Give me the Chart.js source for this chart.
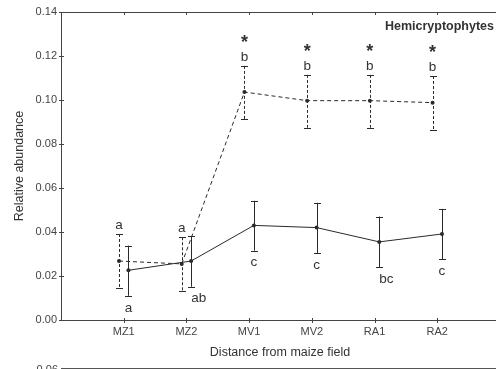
<!DOCTYPE html>
<html>
<head>
<meta charset="utf-8">
<script src="https://cdn.jsdelivr.net/npm/chart.js@4"></script>
<style>
  html, body { margin: 0; padding: 0; background: #fff; overflow: hidden; }
  #chart { display: block; }
</style>
</head>
<body>
<canvas id="chart" width="510" height="369" style="width:510px;height:369px"></canvas>
<script>
// categories along the x axis
const categories = ['MZ1', 'MZ2', 'MV1', 'MV2', 'RA1', 'RA2'];

// dashed series (mean, error bar ends, letters)
const dashedMean  = [0.0268, 0.0255, 0.1036, 0.0997, 0.0997, 0.0988];
const dashedUpper = [0.0391, 0.0376, 0.1155, 0.1114, 0.1114, 0.1109];
const dashedLower = [0.0145, 0.0132, 0.0914, 0.0874, 0.0874, 0.0865];
const dashedLetters = ['a', 'a', 'b', 'b', 'b', 'b'];
const dashedStars = [false, false, true, true, true, true];

// solid series
const solidMean  = [0.0226, 0.0268, 0.0430, 0.0420, 0.0355, 0.0391];
const solidUpper = [0.0338, 0.0382, 0.0542, 0.0533, 0.0470, 0.0505];
const solidLower = [0.0110, 0.0151, 0.0315, 0.0303, 0.0240, 0.0276];
const solidLetters = ['a', 'ab', 'c', 'c', 'bc', 'c'];

const yTicks = [0, 0.02, 0.04, 0.06, 0.08, 0.10, 0.12, 0.14];

const DODGE = 0.075;
const INK = '#2a2a2a';
const FONT = '"Liberation Sans", Arial, sans-serif';

function pts(vals, shift) {
  return vals.map((v, i) => ({ x: i + 1 + shift, y: v }));
}

const decor = {
  id: 'decor',
  afterDatasetsDraw(chart) {
    const ctx = chart.ctx;
    const a = chart.chartArea;
    const xs = chart.scales.x, ys = chart.scales.y;
    ctx.save();

    // frame: left, bottom, top
    ctx.strokeStyle = '#444';
    ctx.lineWidth = 1;
    ctx.setLineDash([]);
    ctx.beginPath();
    ctx.moveTo(a.left + 0.5, a.top + 0.5);
    ctx.lineTo(a.left + 0.5, a.bottom + 0.5);
    ctx.lineTo(a.right, a.bottom + 0.5);
    ctx.moveTo(a.left, a.top + 0.5);
    ctx.lineTo(a.right, a.top + 0.5);
    ctx.stroke();

    // tick marks
    ctx.beginPath();
    yTicks.forEach(v => {
      const y = Math.round(ys.getPixelForValue(v)) + 0.5;
      ctx.moveTo(a.left - 2, y); ctx.lineTo(a.left + 3, y);
    });
    categories.forEach((c, i) => {
      const x = Math.round(xs.getPixelForValue(i + 1)) + 0.5;
      ctx.moveTo(x, a.top); ctx.lineTo(x, a.top + 3);
      ctx.moveTo(x, a.bottom - 2); ctx.lineTo(x, a.bottom + 3);
    });
    ctx.stroke();

    // error bars
    function bars(mean, lo, hi, shift, dash) {
      ctx.strokeStyle = INK;
      ctx.lineWidth = 1;
      mean.forEach((m, i) => {
        const x = Math.round(xs.getPixelForValue(i + 1 + shift)) + 0.5;
        const y1 = ys.getPixelForValue(hi[i]);
        const y2 = ys.getPixelForValue(lo[i]);
        ctx.setLineDash(dash);
        ctx.beginPath();
        ctx.moveTo(x, y1); ctx.lineTo(x, y2);
        ctx.stroke();
        ctx.setLineDash([]);
        ctx.beginPath();
        ctx.moveTo(x - 3.5, Math.round(y1) + 0.5); ctx.lineTo(x + 3.5, Math.round(y1) + 0.5);
        ctx.moveTo(x - 3.5, Math.round(y2) + 0.5); ctx.lineTo(x + 3.5, Math.round(y2) + 0.5);
        ctx.stroke();
      });
    }
    bars(dashedMean, dashedLower, dashedUpper, -DODGE, [3, 2]);
    bars(solidMean, solidLower, solidUpper, DODGE, []);

    // significance letters
    ctx.fillStyle = '#333';
    ctx.textBaseline = 'middle';
    dashedLetters.forEach((t, i) => {
      const x = xs.getPixelForValue(i + 1 - DODGE);
      const y = ys.getPixelForValue(dashedUpper[i]) - 9;
      ctx.textAlign = 'center';
      ctx.font = '13.5px ' + FONT;
      ctx.fillText(t, x, y);
      if (dashedStars[i]) {
        ctx.font = 'bold 18px ' + FONT;
        ctx.fillText('*', x, y - 14);
      }
    });
    ctx.font = '13.5px ' + FONT;
    solidLetters.forEach((t, i) => {
      const x = xs.getPixelForValue(i + 1 + DODGE);
      const y = ys.getPixelForValue(solidLower[i]) + 12;
      ctx.textAlign = t.length > 1 ? 'left' : 'center';
      ctx.fillText(t, x, y);
    });

    // title and axis titles
    ctx.font = 'bold 12.5px ' + FONT;
    ctx.textAlign = 'right';
    ctx.fillText('Hemicryptophytes', 494, a.top + 15);

    ctx.font = '12.5px ' + FONT;
    ctx.textAlign = 'center';
    ctx.fillText('Distance from maize field', 280, 353);

    ctx.save();
    ctx.translate(20, (a.top + a.bottom) / 2);
    ctx.rotate(-Math.PI / 2);
    ctx.fillText('Relative abundance', 0, 0);
    ctx.restore();

    // top edge of the next panel below
    ctx.strokeStyle = '#555';
    ctx.beginPath();
    ctx.moveTo(a.left, 368.5); ctx.lineTo(a.right, 368.5);
    ctx.stroke();
    ctx.font = '11px ' + FONT;
    ctx.textAlign = 'right';
    ctx.fillStyle = '#444';
    ctx.fillText('0.06', a.left - 3, 370);

    ctx.restore();
  }
};

const ctx = document.getElementById('chart').getContext('2d');
new Chart(ctx, {
  type: 'line',
  data: {
    datasets: [
      {
        data: pts(dashedMean, -DODGE),
        borderColor: INK,
        backgroundColor: INK,
        borderWidth: 1,
        borderDash: [4, 3],
        pointRadius: 2,
        pointBorderWidth: 0,
        tension: 0
      },
      {
        data: pts(solidMean, DODGE),
        borderColor: INK,
        backgroundColor: INK,
        borderWidth: 1,
        pointRadius: 2,
        pointBorderWidth: 0,
        tension: 0
      }
    ]
  },
  options: {
    responsive: false,
    animation: false,
    devicePixelRatio: 1,
    layout: { padding: { top: 12, right: 10, left: 0, bottom: 0 } },
    plugins: { legend: { display: false }, tooltip: { enabled: false } },
    scales: {
      x: {
        type: 'linear',
        min: 0,
        max: 7,
        grid: { display: false, drawTicks: false },
        border: { display: false },
        afterBuildTicks: s => { s.ticks = categories.map((c, i) => ({ value: i + 1 })); },
        ticks: {
          autoSkip: false,
          maxRotation: 0,
          padding: 5,
          color: '#444',
          font: { family: FONT, size: 11 },
          callback: v => categories[v - 1] || ''
        },
        afterFit: s => { s.height = 49; }
      },
      y: {
        min: 0,
        max: 0.14,
        grid: { display: false, drawTicks: false },
        border: { display: false },
        afterBuildTicks: s => { s.ticks = yTicks.map(v => ({ value: v })); },
        ticks: {
          padding: 4,
          color: '#444',
          font: { family: FONT, size: 11 },
          callback: v => v.toFixed(2)
        },
        afterFit: s => { s.width = 61; }
      }
    }
  },
  plugins: [decor]
});
</script>
</body>
</html>
